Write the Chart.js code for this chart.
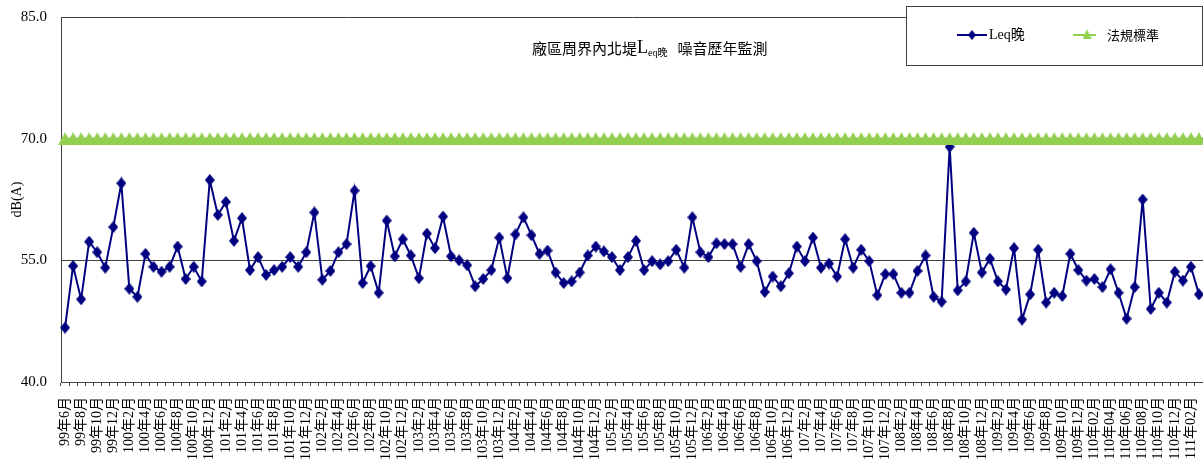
<!DOCTYPE html>
<html lang="zh-Hant">
<head>
<meta charset="UTF-8">
<title>廠區周界內北堤Leq晚 噪音歷年監測</title>
<script src="https://cdn.jsdelivr.net/npm/chart.js"></script>
<style>
  body { margin: 0; background: #fff; }
  #wrap { width: 1203px; height: 463px; }
</style>
</head>
<body>
<div id="wrap"><canvas id="noiseChart" width="1203" height="463"></canvas></div>
<script>
  // monthly categories, only every second one gets a label on the axis
  const months = [
    '99年6月', '99年7月', '99年8月', '99年9月', '99年10月', '99年11月', '99年12月',
    '100年1月', '100年2月', '100年3月', '100年4月', '100年5月', '100年6月', '100年7月', '100年8月', '100年9月', '100年10月', '100年11月', '100年12月',
    '101年1月', '101年2月', '101年3月', '101年4月', '101年5月', '101年6月', '101年7月', '101年8月', '101年9月', '101年10月', '101年11月', '101年12月',
    '102年1月', '102年2月', '102年3月', '102年4月', '102年5月', '102年6月', '102年7月', '102年8月', '102年9月', '102年10月', '102年11月', '102年12月',
    '103年1月', '103年2月', '103年3月', '103年4月', '103年5月', '103年6月', '103年7月', '103年8月', '103年9月', '103年10月', '103年11月', '103年12月',
    '104年1月', '104年2月', '104年3月', '104年4月', '104年5月', '104年6月', '104年7月', '104年8月', '104年9月', '104年10月', '104年11月', '104年12月',
    '105年1月', '105年2月', '105年3月', '105年4月', '105年5月', '105年6月', '105年7月', '105年8月', '105年9月', '105年10月', '105年11月', '105年12月',
    '106年1月', '106年2月', '106年3月', '106年4月', '106年5月', '106年6月', '106年7月', '106年8月', '106年9月', '106年10月', '106年11月', '106年12月',
    '107年1月', '107年2月', '107年3月', '107年4月', '107年5月', '107年6月', '107年7月', '107年8月', '107年9月', '107年10月', '107年11月', '107年12月',
    '108年1月', '108年2月', '108年3月', '108年4月', '108年5月', '108年6月', '108年7月', '108年8月', '108年9月', '108年10月', '108年11月', '108年12月',
    '109年1月', '109年2月', '109年3月', '109年4月', '109年5月', '109年6月', '109年7月', '109年8月', '109年9月', '109年10月', '109年11月', '109年12月',
    '110年01月', '110年02月', '110年03月', '110年04月', '110年05月', '110年06月', '110年07月', '110年08月', '110年09月', '110年10月', '110年11月', '110年12月',
    '111年01月', '111年02月', '111年03月'
  ];

  const leqNight = [
    46.7, 54.3, 50.2, 57.3, 56.0, 54.1, 59.1,
    64.5, 51.5, 50.5, 55.8, 54.2, 53.6, 54.2, 56.7, 52.7, 54.2, 52.4, 64.9,
    60.6, 62.2, 57.4, 60.2, 53.8, 55.4, 53.2, 53.8, 54.2, 55.4, 54.2, 56.0,
    60.9, 52.6, 53.7, 56.0, 57.0, 63.6, 52.2, 54.3, 51.0, 59.9, 55.5, 57.6,
    55.6, 52.8, 58.3, 56.5, 60.4, 55.5, 55.0, 54.4, 51.8, 52.7, 53.8, 57.8,
    52.8, 58.2, 60.3, 58.1, 55.8, 56.2, 53.5, 52.2, 52.4, 53.5, 55.6, 56.7,
    56.1, 55.4, 53.8, 55.4, 57.4, 53.8, 54.9, 54.5, 54.9, 56.3, 54.1, 60.3,
    56.0, 55.4, 57.1, 57.0, 57.0, 54.2, 57.0, 54.9, 51.1, 53.0, 51.8, 53.4,
    56.7, 54.9, 57.8, 54.1, 54.6, 53.0, 57.6, 54.1, 56.3, 54.9, 50.7, 53.3,
    53.3, 51.0, 51.0, 53.7, 55.6, 50.5, 49.9, 69.0, 51.3, 52.4, 58.4, 53.5,
    55.2, 52.4, 51.4, 56.5, 47.7, 50.8, 56.3, 49.8, 51.0, 50.6, 55.8, 53.8,
    52.5, 52.7, 51.7, 53.9, 51.0, 47.8, 51.7, 62.5, 49.0, 51.0, 49.8, 53.6,
    52.5, 54.2, 50.8
  ];

  const limitValue = 70;            // 法規標準
  const limitLine = months.map(() => limitValue);

  const yMin = 40, yMax = 85, yStep = 15;

  const navy = '#000080';
  const green = '#92D050';
  const axisGray = '#404040';
  const serif = '"Liberation Serif", "Times New Roman", "Noto Sans CJK TC", serif';
  const cjk = '"Noto Sans CJK TC", sans-serif';

  // excel-like markers: a tall diamond and a centred triangle
  function makeMarker(w, h, color, shape) {
    const c = document.createElement('canvas');
    c.width = w; c.height = h;
    const g = c.getContext('2d');
    g.fillStyle = color;
    g.beginPath();
    if (shape === 'diamond') {
      g.moveTo(w / 2, 0); g.lineTo(w, h / 2); g.lineTo(w / 2, h); g.lineTo(0, h / 2);
    } else {
      g.moveTo(w / 2, 0); g.lineTo(w, h); g.lineTo(0, h);
    }
    g.closePath();
    g.fill();
    return c;
  }
  const diamond = makeMarker(10, 12, navy, 'diamond');
  const triangle = makeMarker(14, 13, green, 'triangle');
  const smallTriangle = makeMarker(9, 10, green, 'triangle');

  // title with subscript and the floating legend box
  const overlay = {
    id: 'overlay',
    afterDraw(chart) {
      const ctx = chart.ctx;
      ctx.save();
      ctx.fillStyle = '#000';
      ctx.textBaseline = 'middle';

      const parts = [
        { t: '廠區周界內北堤', f: '15px ' + cjk, dy: 0, gap: 0 },
        { t: 'L', f: '18px ' + serif, dy: 0, gap: 0 },
        { t: 'eq晚', f: '10px ' + serif, dy: 5, gap: 0 },
        { t: '噪音歷年監測', f: '15px ' + cjk, dy: 0, gap: 10 }
      ];
      let x = 532;
      parts.forEach(p => {
        x += p.gap;
        ctx.font = p.f;
        ctx.fillText(p.t, x, 48 + p.dy);
        x += ctx.measureText(p.t).width;
      });

      // legend box
      const bx = 906.5, by = 6.5, bw = 296, bh = 59;
      ctx.fillStyle = '#fff';
      ctx.fillRect(bx, by, bw, bh);
      ctx.strokeStyle = axisGray;
      ctx.lineWidth = 1;
      ctx.strokeRect(bx, by, bw, bh);

      const ly = 35;
      ctx.lineWidth = 2;
      ctx.strokeStyle = navy;
      ctx.beginPath(); ctx.moveTo(957, ly); ctx.lineTo(987, ly); ctx.stroke();
      ctx.drawImage(diamond, 972 - 4, ly - 5, 8, 10);
      ctx.fillStyle = '#000';
      ctx.font = '14px ' + serif;
      ctx.fillText('Leq晚', 989, ly);

      ctx.strokeStyle = green;
      ctx.beginPath(); ctx.moveTo(1073, ly); ctx.lineTo(1096, ly); ctx.stroke();
      ctx.drawImage(smallTriangle, 1087 - 4.5, ly - 6);
      ctx.fillStyle = '#000';
      ctx.font = '13px ' + cjk;
      ctx.fillText('法規標準', 1107, ly);
      ctx.restore();
    }
  };

  const ctx = document.getElementById('noiseChart').getContext('2d');
  new Chart(ctx, {
    type: 'line',
    data: {
      labels: months,
      datasets: [
        {
          label: 'Leq晚',
          data: leqNight,
          borderColor: navy,
          backgroundColor: navy,
          borderWidth: 2,
          pointStyle: diamond,
          pointRadius: 5,
          tension: 0,
          order: 1
        },
        {
          label: '法規標準',
          data: limitLine,
          borderColor: green,
          backgroundColor: green,
          borderWidth: 2.5,
          pointStyle: triangle,
          pointRadius: 6,
          tension: 0,
          order: 0
        }
      ]
    },
    options: {
      responsive: false,
      animation: false,
      events: [],
      layout: { autoPadding: false, padding: { top: 17, left: 0, right: 0, bottom: 0 } },
      plugins: {
        legend: { display: false },
        tooltip: { enabled: false }
      },
      scales: {
        x: {
          offset: true,
          grid: {
            offset: true,
            drawOnChartArea: false,
            drawTicks: true,
            tickLength: 4,
            color: axisGray
          },
          border: { color: axisGray, width: 1 },
          ticks: {
            autoSkip: false,
            maxRotation: 90,
            minRotation: 90,
            padding: 11,
            color: '#000',
            font: { family: serif, size: 14 },
            callback: (v, i) => (i % 2 === 0 ? months[i] : '')
          },
          afterFit: s => {
            s.height = 81;
            s.paddingLeft = 0;
            s.paddingRight = 0;
          }
        },
        y: {
          min: yMin,
          max: yMax,
          grid: { color: axisGray, lineWidth: 1, drawTicks: false },
          border: { color: axisGray, width: 1 },
          ticks: {
            stepSize: yStep,
            padding: 14,
            color: '#000',
            font: { family: serif, size: 15 },
            callback: v => v.toFixed(1)
          },
          title: {
            display: true,
            text: 'dB(A)',
            color: '#000',
            font: { family: serif, size: 14 },
            padding: { top: 9, bottom: 0 }
          },
          afterFit: s => {
            s.width = 61;
            s.paddingTop = 0;
            s.paddingBottom = 0;
          }
        }
      }
    },
    plugins: [overlay]
  });
</script>
</body>
</html>
